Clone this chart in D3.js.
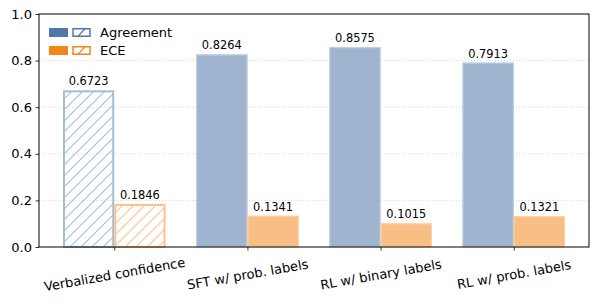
<!DOCTYPE html>
<html>
<head>
<meta charset="utf-8">
<script src="https://cdn.jsdelivr.net/npm/d3@7"></script>
<style>
  body { margin: 0; background: #fff; }
  text { font-family: "DejaVu Sans", sans-serif; fill: #000; }
</style>
</head>
<body>
<div id="chart"></div>
<script>
// data
const categories = ['Verbalized confidence', 'SFT w/ prob. labels', 'RL w/ binary labels', 'RL w/ prob. labels'];
const agreement = [0.6723, 0.8264, 0.8575, 0.7913];
const ece = [0.1846, 0.1341, 0.1015, 0.1321];
const hatched = [true, false, false, false];
const yTicks = [0.0, 0.2, 0.4, 0.6, 0.8, 1.0];
const seriesNames = ['Agreement', 'ECE'];

const blue = '#4e79a7', orange = '#f58518';
const blueFill = '#9fb5cf', orangeFill = '#f9be84';
const blueEdge = '#c3d2e2', orangeEdge = '#fcd3ab';
const blueHatch = '#a6bcd6', orangeHatch = '#fbc28e';

const svg = d3.select('#chart')
    .append('svg')
    .attr('width', 598)
    .attr('height', 308);

const margin = { top: 14, right: 9, bottom: 61, left: 39 };
const width = 598 - margin.left - margin.right;
const height = 308 - margin.top - margin.bottom;

const x = d3.scaleLinear().domain([-0.565, 3.565]).range([0, width]);
const y = d3.scaleLinear().domain([0, 1]).range([height, 0]);
const barW = 0.385;

// hatch patterns
const defs = svg.append('defs');
function hatch(id, color) {
    const p = defs.append('pattern')
        .attr('id', id)
        .attr('patternUnits', 'userSpaceOnUse')
        .attr('width', 11).attr('height', 11);
    p.append('path')
        .attr('d', 'M0,11 L11,0 M-2,2 L2,-2 M9,13 L13,9')
        .attr('stroke', color)
        .attr('stroke-width', 1.1);
}
hatch('hatchBlue', blueHatch);
hatch('hatchOrange', orangeHatch);

const g = svg.append('g')
    .attr('transform', 'translate(' + margin.left + ',' + margin.top + ')');

// grid
g.selectAll('.grid')
    .data(yTicks.filter(d => d > 0 && d < 1))
    .enter().append('line')
    .attr('x1', 0).attr('x2', width)
    .attr('y1', d => y(d)).attr('y2', d => y(d))
    .attr('stroke', '#cccccc')
    .attr('stroke-width', 0.8)
    .attr('stroke-dasharray', '1,2');

// bars
const series = [
    { vals: agreement, off: -barW / 2, fill: blueFill, edge: blueEdge, hatchColor: blueHatch, pat: 'hatchBlue' },
    { vals: ece, off: barW / 2, fill: orangeFill, edge: orangeEdge, hatchColor: orangeHatch, pat: 'hatchOrange' }
];

series.forEach(s => {
    categories.forEach((c, i) => {
        const x0 = x(i + s.off - barW / 2);
        const x1 = x(i + s.off + barW / 2);
        const top = y(s.vals[i]);
        if (hatched[i]) {
            g.append('rect')
                .attr('x', x0 + 1).attr('y', top + 1)
                .attr('width', x1 - x0 - 2).attr('height', height - top - 1)
                .attr('fill', 'url(#' + s.pat + ')')
                .attr('stroke', s.hatchColor)
                .attr('stroke-width', 2);
        } else {
            g.append('rect')
                .attr('x', x0).attr('y', top)
                .attr('width', x1 - x0).attr('height', height - top)
                .attr('fill', s.fill);
            g.append('rect')
                .attr('x', x0 + 0.5).attr('y', top + 0.5)
                .attr('width', x1 - x0 - 1).attr('height', height - top - 0.5)
                .attr('fill', 'none')
                .attr('stroke', s.edge)
                .attr('stroke-width', 1);
        }
        g.append('text')
            .attr('x', (x0 + x1) / 2)
            .attr('y', top - 5)
            .attr('text-anchor', 'middle')
            .style('font-size', '11.4px')
            .text(s.vals[i].toFixed(4));
    });
});

// axes
const yAxis = d3.axisLeft(y).tickValues(yTicks).tickFormat(d3.format('.1f')).tickSize(3.5).tickPadding(3.5);
const yg = g.append('g').call(yAxis);
yg.select('.domain').remove();
yg.selectAll('text').style('font-size', '13px');
yg.selectAll('line').attr('stroke', '#000').attr('stroke-width', 0.8);

const xAxis = d3.axisBottom(x).tickValues(categories.map((c, i) => i)).tickFormat(i => categories[i]).tickSize(3.5).tickPadding(3.5);
const xg = g.append('g')
    .attr('transform', 'translate(0,' + height + ')')
    .call(xAxis);
xg.select('.domain').remove();
xg.selectAll('line').attr('stroke', '#000').attr('stroke-width', 0.8);
xg.selectAll('text')
    .style('font-size', '13px')
    .attr('text-anchor', 'middle')
    .attr('dy', null)
    .attr('y', 0)
    .attr('transform', 'translate(0,28.5) rotate(-10)')
    .attr('dominant-baseline', 'middle');

// frame
g.append('rect')
    .attr('x', 0).attr('y', 0)
    .attr('width', width).attr('height', height)
    .attr('fill', 'none')
    .attr('stroke', '#000')
    .attr('stroke-width', 1);

// legend
const legend = svg.append('g').attr('transform', 'translate(49,28)');
[[blue, blue, 'Agreement'], [orange, orange, 'ECE']].forEach((d, i) => {
    const row = legend.append('g').attr('transform', 'translate(0,' + (i * 18) + ')');
    row.append('rect')
        .attr('x', 0).attr('y', 0)
        .attr('width', 19).attr('height', 9)
        .attr('fill', d[0]);
    row.append('rect')
        .attr('x', 24).attr('y', 0.75)
        .attr('width', 17).attr('height', 7.5)
        .attr('fill', '#fff')
        .attr('stroke', d[1])
        .attr('stroke-width', 1.5);
    row.append('line')
        .attr('x1', 29).attr('y1', 8.25)
        .attr('x2', 36).attr('y2', 0.75)
        .attr('stroke', d[1])
        .attr('stroke-width', 1.1);
    row.append('text')
        .attr('x', 51).attr('y', 4.5)
        .attr('dy', '0.35em')
        .style('font-size', '13px')
        .text(d[2]);
});
</script>
</body>
</html>
